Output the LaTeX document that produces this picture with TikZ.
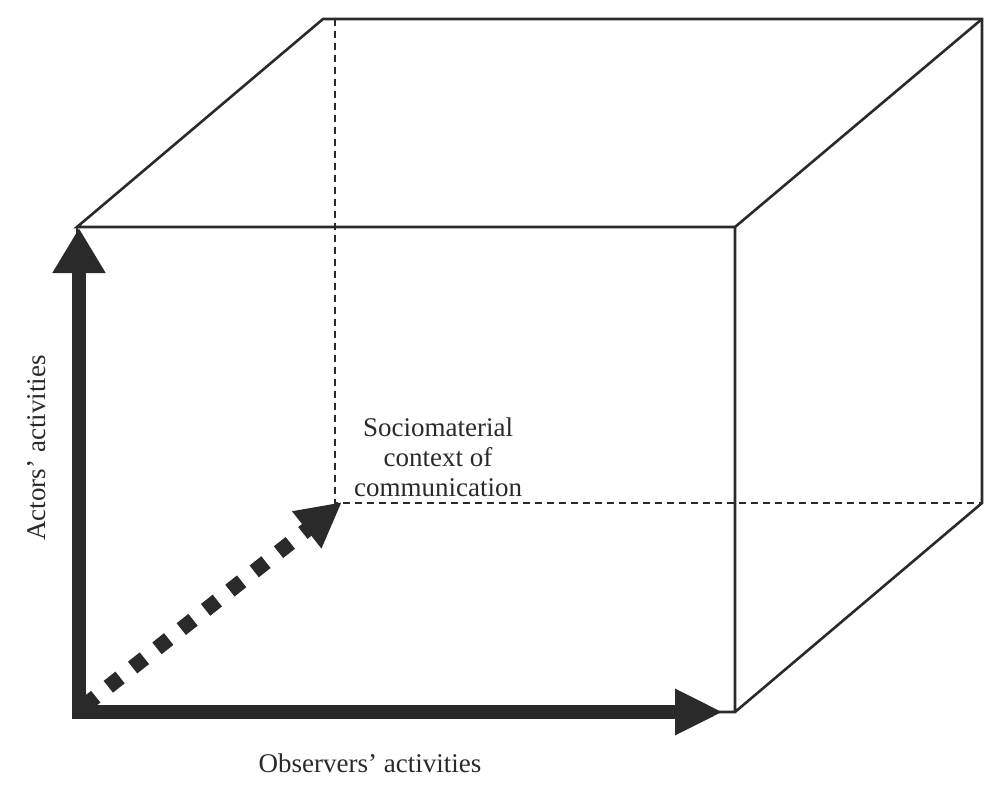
\documentclass[tikz,border=0pt]{standalone}
\usepackage{fontspec}
\setmainfont{Liberation Serif}
\usetikzlibrary{arrows.meta}
\definecolor{ink}{RGB}{42,42,42}
\tikzset{
  edge/.style={draw=ink, line width=2.6pt, line join=miter},
  hidden/.style={draw=ink, line width=1.3pt, dash pattern=on 7pt off 5pt},
  axisarrow/.style={draw=ink, line width=14pt},
  lbl/.style={font=\fontsize{27}{30}\selectfont, text=ink, inner sep=0pt, align=center}
}
\begin{document}
\begin{tikzpicture}[x=1pt,y=-1pt]
\useasboundingbox (0,0) rectangle (1004,800);
% cube corners
\coordinate (ftl) at (77,227);
\coordinate (ftr) at (735,227);
\coordinate (fbr) at (735,712);
\coordinate (fbl) at (77,712);
\coordinate (btl) at (323,19);
\coordinate (btr) at (982,19);
\coordinate (bbr) at (982,503);
\coordinate (bdt) at (335,19);
\coordinate (bbl) at (335,503);
% arrow ends
\coordinate (o) at (79,712);
\coordinate (oy) at (79,228);
\coordinate (ox) at (723,712);
\coordinate (od) at (84,706);
\coordinate (oz) at (342,502);
% hidden edges
\draw[hidden] (bdt) -- (bbl) -- (bbr);
% visible edges
\draw[edge] (fbl) -- (fbr) -- (ftr) -- (ftl) -- (btl) -- (btr) -- (bbr) -- (fbr);
\draw[edge] (ftr) -- (btr);
\draw[edge] (ftl) -- (fbl);
% axes
\draw[axisarrow, -{Triangle[length=45pt,width=50pt]}] (79,719) -- (oy);
\draw[axisarrow, -{Triangle[length=48pt,width=43pt]}] (72,712) -- (ox);
\draw[ink, line width=15pt, dash pattern=on 15pt off 16pt, -{Triangle[length=45pt,width=44pt]}] (od) -- (oz);
% labels
\node[lbl] (ctx) at (438,457) {Sociomaterial\\context of\\communication};
\node[lbl, rotate=90] (act) at (37,448) {Actors’ activities};
\node[lbl] (obs) at (370,763) {Observers’ activities};
\end{tikzpicture}
\end{document}
